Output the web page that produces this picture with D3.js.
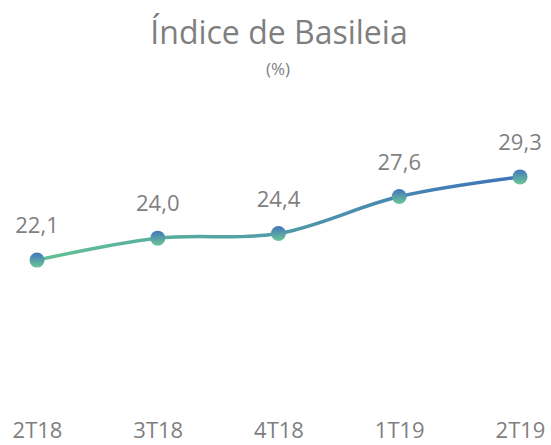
<!DOCTYPE html>
<html>
<head>
<meta http-equiv="Content-type" content="text/html; charset=utf-8">
<title>Índice de Basileia</title>
<script src="https://cdn.jsdelivr.net/npm/d3@7"></script>
<style>
  body { margin: 0; background: #fff; }
  text { font-family: "Open Sans", "Liberation Sans", sans-serif; fill: #7f7f7f; }
</style>
</head>
<body>
<script>
// chart data
var periods = ["2T18", "3T18", "4T18", "1T19", "2T19"];
var basileia = [22.1, 24.0, 24.4, 27.6, 29.3];
var valueLabels = ["22,1", "24,0", "24,4", "27,6", "29,3"];

var width = 551, height = 445;

var svg = d3.select("body").append("svg")
  .attr("width", width)
  .attr("height", height);

var defs = svg.append("defs");

// line gradient: green on the left, blue on the right
var lineGrad = defs.append("linearGradient")
  .attr("id", "lineGrad")
  .attr("gradientUnits", "userSpaceOnUse")
  .attr("x1", 37).attr("x2", 520).attr("y1", 0).attr("y2", 0);
lineGrad.append("stop").attr("offset", "0%").attr("stop-color", "#62c295");
lineGrad.append("stop").attr("offset", "100%").attr("stop-color", "#3e73ba");

// marker gradient: blue top, green bottom
var dotGrad = defs.append("linearGradient")
  .attr("id", "dotGrad")
  .attr("x1", 0).attr("x2", 0).attr("y1", 0).attr("y2", 1);
dotGrad.append("stop").attr("offset", "0%").attr("stop-color", "#4274bd");
dotGrad.append("stop").attr("offset", "100%").attr("stop-color", "#6cc794");

var x = d3.scalePoint().domain(periods).range([37, 520]);
var y = d3.scaleLinear().domain([10, 35]).range([400, 111]);

var pts = periods.map(function (p, i) { return { p: p, v: basileia[i], lab: valueLabels[i] }; });

// title
svg.append("text")
  .attr("x", 279).attr("y", 44)
  .attr("text-anchor", "middle")
  .style("font-size", "32px")
  .text("Índice de Basileia");

svg.append("text")
  .attr("x", 278).attr("y", 75)
  .attr("text-anchor", "middle")
  .style("font-size", "17px")
  .text("(%)");

// smoothed line
var line = d3.line()
  .x(function (d) { return x(d.p); })
  .y(function (d) { return y(d.v); })
  .curve(d3.curveCatmullRom);

svg.append("path")
  .datum(pts)
  .attr("d", line)
  .attr("fill", "none")
  .attr("stroke", "url(#lineGrad)")
  .attr("stroke-width", 3.5);

svg.selectAll(".dot")
  .data(pts)
  .enter().append("circle")
  .attr("class", "dot")
  .attr("cx", function (d) { return x(d.p); })
  .attr("cy", function (d) { return y(d.v); })
  .attr("r", 7.5)
  .attr("fill", "url(#dotGrad)");

svg.selectAll(".vlab")
  .data(pts)
  .enter().append("text")
  .attr("class", "vlab")
  .attr("x", function (d) { return x(d.p); })
  .attr("y", function (d) { return y(d.v) - 27; })
  .attr("text-anchor", "middle")
  .style("font-size", "22px")
  .text(function (d) { return d.lab; });

// category axis, no line or ticks
var xAxis = svg.append("g")
  .attr("transform", "translate(0,412)")
  .call(d3.axisBottom(x).tickSize(0).tickPadding(0));
xAxis.select(".domain").remove();
xAxis.selectAll("text")
  .attr("dy", "0")
  .attr("y", 26)
  .style("font-size", "22px")
  .style("font-family", "'Open Sans', 'Liberation Sans', sans-serif")
  .attr("fill", "#7f7f7f");
</script>
</body>
</html>
